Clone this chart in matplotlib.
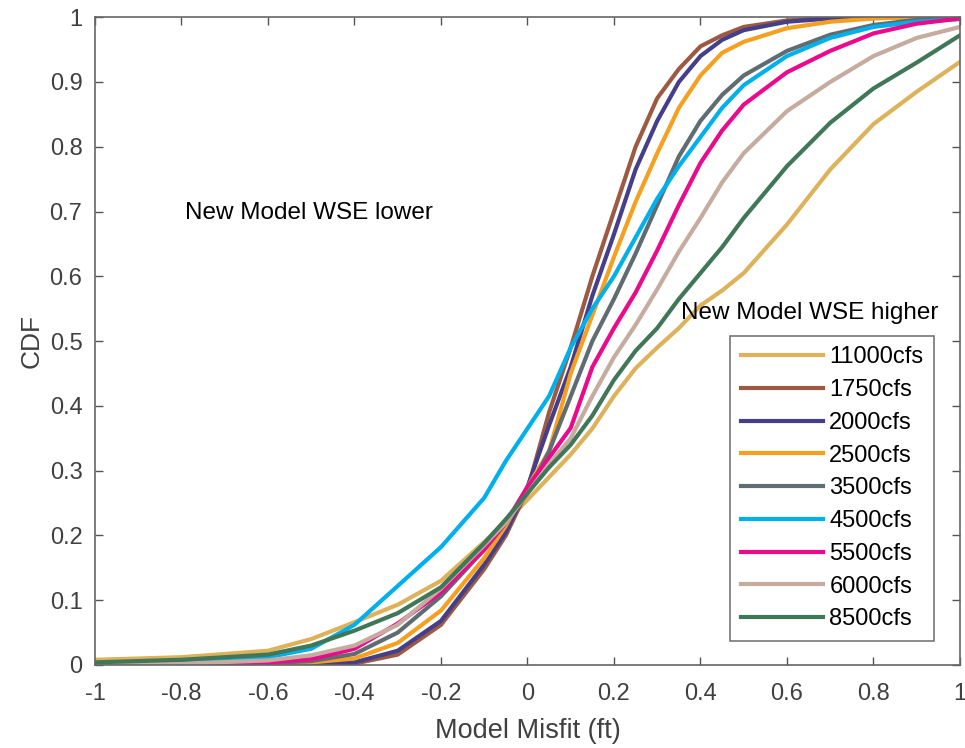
import matplotlib
matplotlib.use("Agg")
import matplotlib.pyplot as plt

plt.rcParams['font.family'] = ['Liberation Sans', 'DejaVu Sans']

# misfit grid (ft)
misfit = [-1, -0.8, -0.6, -0.5, -0.4, -0.3, -0.2, -0.1, -0.05, 0, 0.05, 0.1, 0.15,
          0.2, 0.25, 0.3, 0.35, 0.4, 0.45, 0.5, 0.6, 0.7, 0.8, 0.9, 1.0]

cdf_11000 = [0.008, 0.012, 0.022, 0.04, 0.066, 0.093, 0.13, 0.19, 0.22, 0.255, 0.29, 0.325, 0.365,
             0.415, 0.458, 0.49, 0.52, 0.555, 0.578, 0.605, 0.68, 0.765, 0.835, 0.885, 0.931]
cdf_1750 = [0, 0, 0.001, 0.001, 0.002, 0.016, 0.062, 0.148, 0.2, 0.27, 0.39, 0.49, 0.6,
            0.7, 0.8, 0.875, 0.92, 0.955, 0.972, 0.985, 0.995, 0.999, 1, 1, 1]
cdf_2000 = [0, 0, 0.001, 0.002, 0.004, 0.022, 0.068, 0.155, 0.205, 0.275, 0.37, 0.46, 0.57,
            0.665, 0.765, 0.84, 0.9, 0.94, 0.965, 0.98, 0.993, 0.998, 1, 1, 1]
cdf_2500 = [0, 0.001, 0.002, 0.004, 0.01, 0.034, 0.084, 0.165, 0.215, 0.275, 0.33, 0.45, 0.54,
            0.63, 0.715, 0.79, 0.86, 0.91, 0.945, 0.962, 0.983, 0.993, 0.998, 1, 1]
cdf_3500 = [0, 0.001, 0.003, 0.006, 0.017, 0.05, 0.106, 0.178, 0.22, 0.265, 0.33, 0.415, 0.5,
            0.565, 0.635, 0.71, 0.785, 0.84, 0.88, 0.91, 0.948, 0.973, 0.988, 0.996, 0.999]
cdf_4500 = [0.001, 0.003, 0.012, 0.025, 0.062, 0.122, 0.182, 0.258, 0.315, 0.365, 0.415, 0.49, 0.55,
            0.6, 0.66, 0.72, 0.77, 0.815, 0.86, 0.895, 0.94, 0.968, 0.985, 0.993, 0.997]
cdf_5500 = [0, 0.001, 0.004, 0.009, 0.025, 0.064, 0.112, 0.178, 0.22, 0.275, 0.32, 0.366, 0.46,
            0.52, 0.575, 0.64, 0.71, 0.775, 0.825, 0.865, 0.915, 0.948, 0.975, 0.99, 0.998]
cdf_6000 = [0.001, 0.002, 0.007, 0.015, 0.03, 0.062, 0.118, 0.185, 0.22, 0.265, 0.31, 0.35, 0.415,
            0.475, 0.525, 0.58, 0.638, 0.69, 0.745, 0.79, 0.855, 0.9, 0.94, 0.968, 0.985]
cdf_8500 = [0.004, 0.008, 0.016, 0.03, 0.053, 0.08, 0.12, 0.188, 0.225, 0.265, 0.305, 0.34, 0.385,
            0.44, 0.485, 0.52, 0.565, 0.605, 0.645, 0.69, 0.77, 0.837, 0.89, 0.93, 0.972]

labels = ['11000cfs', '1750cfs', '2000cfs', '2500cfs', '3500cfs',
          '4500cfs', '5500cfs', '6000cfs', '8500cfs']
colors = ['#DDB25A', '#9C5A42', '#453F8B', '#F5A020', '#5F6C72',
          '#00B0EC', '#EB0A8C', '#C6AB9F', '#3F7758']
series = [cdf_11000, cdf_1750, cdf_2000, cdf_2500, cdf_3500,
          cdf_4500, cdf_5500, cdf_6000, cdf_8500]

fig = plt.figure(figsize=(9.65, 7.48), dpi=100)
ax = fig.add_axes([0.0984, 0.111, 0.8964, 0.866])

for y, c, lab in zip(series, colors, labels):
    ax.plot(misfit, y, color=c, lw=3, label=lab)

ax.set_xlim(-1, 1)
ax.set_ylim(0, 1)
ax.set_xticks([-1, -0.8, -0.6, -0.4, -0.2, 0, 0.2, 0.4, 0.6, 0.8, 1])
ax.set_xticklabels(['-1', '-0.8', '-0.6', '-0.4', '-0.2', '0', '0.2', '0.4', '0.6', '0.8', '1'])
ax.set_yticks([i / 10 for i in range(11)])
ax.set_yticklabels(['0', '0.1', '0.2', '0.3', '0.4', '0.5', '0.6', '0.7', '0.8', '0.9', '1'])
ax.tick_params(direction='in', length=6, width=1, top=True, right=True,
               labelsize=17, colors='#555555', labelcolor='#404040')
ax.tick_params(axis='x', pad=13)
ax.tick_params(axis='y', pad=9)
for s in ax.spines.values():
    s.set_color('#666666')
    s.set_linewidth(1.2)

ax.set_xlabel('Model Misfit (ft)', fontsize=19.5, color='#404040', labelpad=9)
ax.set_ylabel('CDF', fontsize=19, color='#404040', labelpad=4)

ax.text(-0.792, 0.697, 'New Model WSE lower', fontsize=17.5, va='center', ha='left')
ax.text(0.355, 0.543, 'New Model WSE higher', fontsize=17.5, va='center', ha='left')

leg = ax.legend(loc='lower right', bbox_to_anchor=(0.970, 0.037), fontsize=17,
                handlelength=3.5, labelspacing=0.455, borderpad=0.45, handletextpad=0.25,
                fancybox=False, framealpha=1, borderaxespad=0)
leg.get_frame().set_edgecolor('#777777')
leg.get_frame().set_linewidth(1.2)

fig.savefig('out.png', dpi=100)
